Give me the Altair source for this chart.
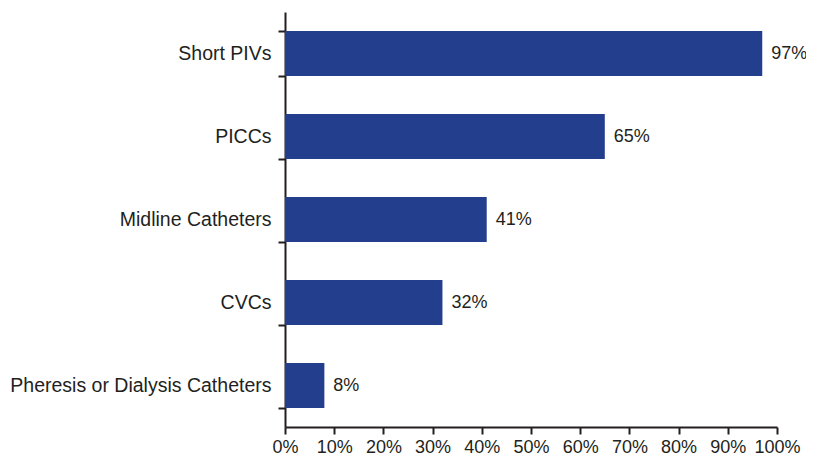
import altair as alt
import pandas as pd

categories = ["Short PIVs", "PICCs", "Midline Catheters", "CVCs", "Pheresis or Dialysis Catheters"]
values = [97, 65, 41, 32, 8]
tick_values = [0, 10, 20, 30, 40, 50, 60, 70, 80, 90, 100]

df = pd.DataFrame({"category": categories, "value": values})
df["label"] = df["value"].astype(str) + "%"

FONT = "Liberation Sans"
TXT = "#231f20"

base = alt.Chart(df).encode(
    y=alt.Y("category:N", sort=categories, title=None,
            scale=alt.Scale(paddingInner=0.46, paddingOuter=0.23),
            axis=alt.Axis(ticks=True, tickBand="extent", tickSize=7, tickWidth=2,
                          domainWidth=2, domainColor=TXT, tickColor=TXT,
                          labelPadding=7, labelFontSize=19.5, labelFont=FONT,
                          labelColor=TXT, labelLimit=400)),
)

bars = base.mark_bar(color="#233e8d").encode(
    x=alt.X("value:Q", title=None,
            scale=alt.Scale(domain=[0, 100], nice=False),
            axis=alt.Axis(values=tick_values, labelExpr="datum.value + '%'",
                          ticks=True, tickSize=7, tickWidth=2, domainWidth=2,
                          domainColor=TXT, tickColor=TXT, labelPadding=4,
                          labelFontSize=18, labelFont=FONT, labelColor=TXT,
                          labelOverlap=False, labelFlush=False, grid=False)),
)

labels = base.mark_text(align="left", baseline="middle", dx=9, fontSize=18,
                        font=FONT, color=TXT).encode(
    x=alt.X("value:Q"),
    text="label:N",
)

chart = (bars + labels).properties(
    width=492, height=415,
    autosize=alt.AutoSizeParams(type="none"),
    padding={"left": 277, "top": 4, "right": 29, "bottom": 29},
).configure_view(stroke=None).configure_axis(grid=False)

chart.save("out.html", embed_options={"renderer": "svg", "actions": False})
